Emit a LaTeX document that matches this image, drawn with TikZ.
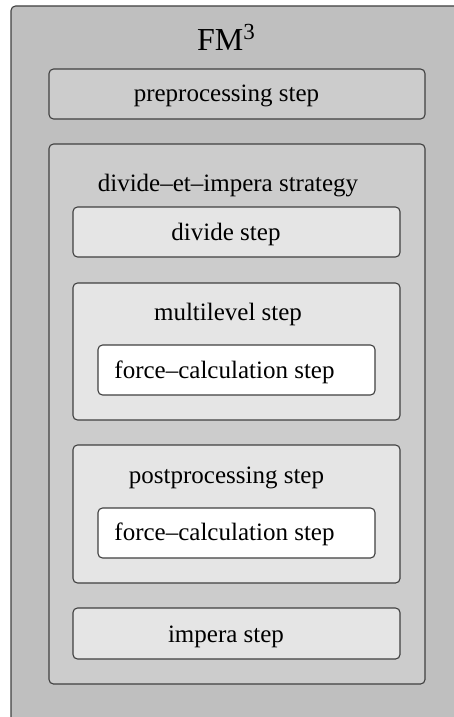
\documentclass[tikz,border=0pt]{standalone}
\usepackage{fontspec}
\setmainfont{Liberation Serif}
\begin{document}
\begin{tikzpicture}[x=1pt,y=-1pt,
  frame/.style={draw=black!75,line width=1.1pt,rounded corners=4.5pt},
  lvlA/.style={frame,fill=black!25},
  lvlB/.style={frame,fill=black!20},
  lvlC/.style={frame,fill=black!10},
  lvlD/.style={frame,fill=white},
  label/.style={anchor=base,inner sep=0pt,font=\fontsize{25}{30}\selectfont},
  title/.style={anchor=base,inner sep=0pt,font=\fontsize{32}{38}\selectfont}]
\useasboundingbox (0,0) rectangle (454,717);
\clip (0,0) rectangle (454,717);
% outer algorithm frame, running off the page to the right and bottom
\draw[lvlA] (11,6) rectangle (480,760);
\node[title] (fm) at (226,51) {FM\raisebox{11pt}{\fontsize{23}{26}\selectfont 3}};
% preprocessing
\draw[lvlB] (49,69) rectangle (425,119);
\node[label] (pre) at (226.5,101) {preprocessing step};
% divide-et-impera strategy
\draw[lvlB] (49,144) rectangle (425,684);
\node[label] (dei) at (228,191) {divide--et--impera strategy};
\draw[lvlC] (73,207) rectangle (400,257);
\node[label] (div) at (226,240) {divide step};
% multilevel step
\draw[lvlC] (73,283) rectangle (400,420);
\node[label] (ml) at (228,320.5) {multilevel step};
\draw[lvlD] (98,345) rectangle (375,395);
\node[label] (fc1) at (224.5,378) {force--calculation step};
% postprocessing step
\draw[lvlC] (73,445) rectangle (400,583);
\node[label] (post) at (226.5,483) {postprocessing step};
\draw[lvlD] (98,508) rectangle (375,558);
\node[label] (fc2) at (224.5,540.5) {force--calculation step};
% impera step
\draw[lvlC] (73,608) rectangle (400,659);
\node[label] (imp) at (226,642) {impera step};
\end{tikzpicture}
\end{document}
